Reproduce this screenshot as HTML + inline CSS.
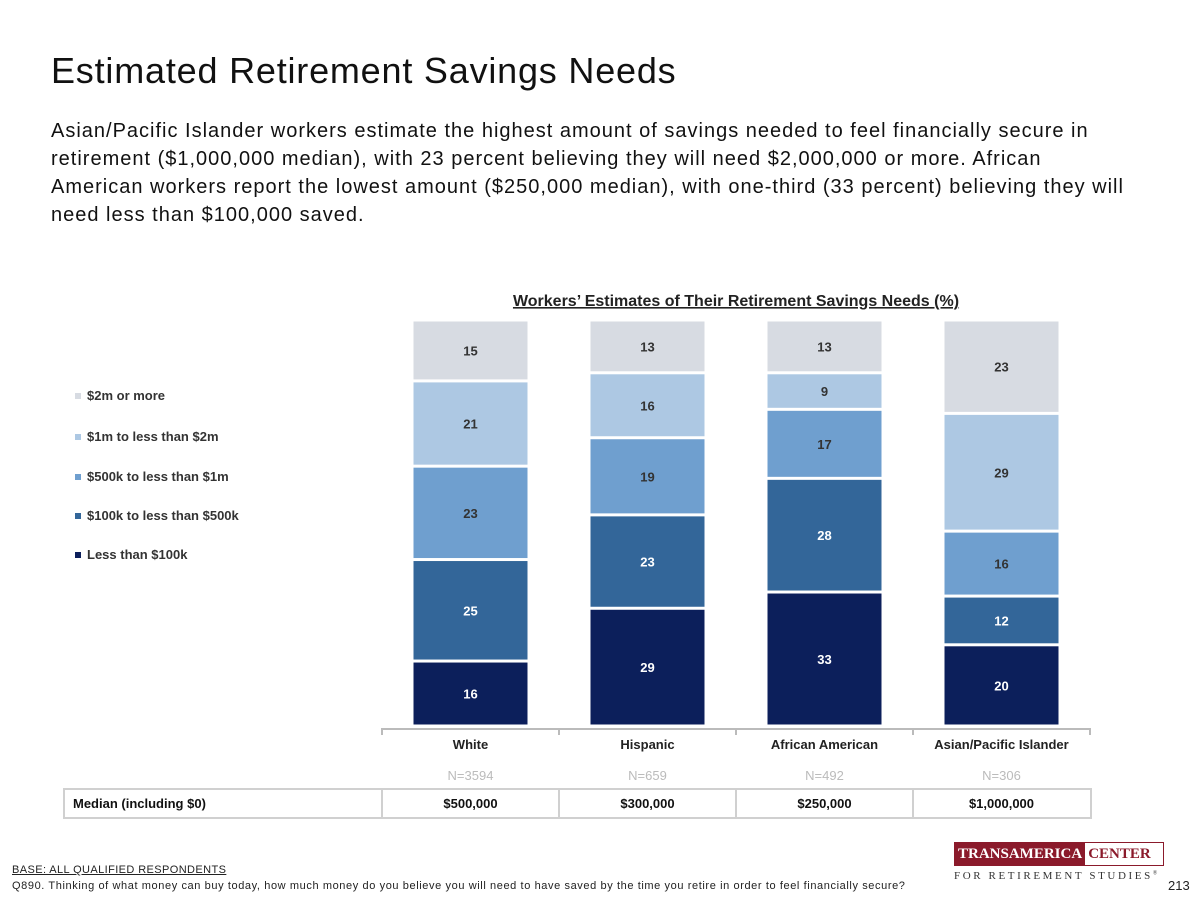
<!DOCTYPE html>
<html><head><meta charset="utf-8">
<style>
body{margin:0;width:1200px;height:900px;background:#fff;overflow:hidden;font-family:"Liberation Sans",sans-serif;position:relative}
.abs{position:absolute}
</style></head><body>
<div class="abs" style="left:51px;top:50px;font-size:36px;letter-spacing:0.8px;color:#111;white-space:nowrap">Estimated Retirement Savings Needs</div>
<div class="abs" style="left:51px;top:117px;font-size:20px;letter-spacing:1.0px;line-height:28px;color:#111;white-space:nowrap">Asian/Pacific Islander workers estimate the highest amount of savings needed to feel financially secure in<br>retirement ($1,000,000 median), with 23 percent believing they will need $2,000,000 or more. African<br>American workers report the lowest amount ($250,000 median), with one-third (33 percent) believing they will<br>need less than $100,000 saved.</div>
<svg class="abs" style="left:0;top:0" width="1200" height="900" id="chart">
<text x="736" y="306" text-anchor="middle" font-size="16" font-weight="bold" fill="#222" text-decoration="underline">Workers’ Estimates of Their Retirement Savings Needs (%)</text>
</svg>
<div class="abs" style="left:12px;top:864px;font-size:11px;letter-spacing:0.4px;color:#222;text-decoration:underline">BASE: ALL QUALIFIED RESPONDENTS</div>
<div class="abs" style="left:12px;top:880px;font-size:11px;letter-spacing:0.6px;color:#222;white-space:nowrap">Q890. Thinking of what money can buy today, how much money do you believe you will need to have saved by the time you retire in order to feel financially secure?</div>
<div class="abs" style="left:954px;top:842px;width:212px">
<div style="display:flex;border:1px solid #8b1a2b;height:22px;width:208px"><div style="background:#8b1a2b;color:#fff;font-family:'Liberation Serif',serif;font-weight:bold;font-size:15px;line-height:22px;padding:0 3px">TRANSAMERICA</div><div style="color:#8b1a2b;font-family:'Liberation Serif',serif;font-weight:bold;font-size:15px;line-height:22px;padding:0 3px">CENTER</div></div>
<div style="font-family:'Liberation Serif',serif;font-size:11px;letter-spacing:2.6px;color:#333;margin-top:4px;white-space:nowrap">FOR RETIREMENT STUDIES<sup style="font-size:6px">®</sup></div>
</div>
<div class="abs" style="left:1168px;top:878px;font-size:13px;color:#222">213</div>
<script>
const categories=["White","Hispanic","African American","Asian/Pacific Islander"];
const sampleSizes=["N=3594","N=659","N=492","N=306"];
const medians=["$500,000","$300,000","$250,000","$1,000,000"];
const seriesNames=["Less than $100k","$100k to less than $500k","$500k to less than $1m","$1m to less than $2m","$2m or more"];
const lessThan100k=[16,29,33,20];
const from100kTo500k=[25,23,28,12];
const from500kTo1m=[23,19,17,16];
const from1mTo2m=[21,16,9,29];
const over2m=[15,13,13,23];
const series=[lessThan100k,from100kTo500k,from500kTo1m,from1mTo2m,over2m];
const colors=["#0c1f5b","#336699","#6f9fcf","#adc8e3","#d7dbe2"];
const textColors=["#fff","#fff","#333","#333","#333"];
const svg=document.getElementById('chart');const NS="http://www.w3.org/2000/svg";
const x0=382,x1=1090,yB=726,yT=320;
const colW=(x1-x0)/categories.length;
const xC=i=>x0+colW*(i+0.5);
const yS=v=>yB-(v/100)*(yB-yT);
function el(t,a){const e=document.createElementNS(NS,t);for(const k in a)e.setAttribute(k,a[k]);svg.appendChild(e);return e;}
categories.forEach((c,i)=>{
 let cum=0;
 series.forEach((s,k)=>{
  const v=s[i];const yTop=yS(cum+v),yBot=yS(cum);
  const r=el('rect',{x:xC(i)-57,y:yTop+1.5,width:114,height:yBot-yTop-3,fill:colors[k]});
  
  
  const t=el('text',{x:xC(i),y:(yTop+yBot)/2+5,'text-anchor':'middle','font-size':13,'font-weight':'bold',fill:textColors[k]});
  t.textContent=v;
  
  
  cum+=v;
 });
 const l=el('text',{x:xC(i),y:749,'text-anchor':'middle','font-size':13,'font-weight':'bold',fill:'#222'});l.textContent=c;
 
 
 const n=el('text',{x:xC(i),y:780,'text-anchor':'middle','font-size':13,fill:'#bbb'});n.textContent=sampleSizes[i];
 
 
 const m=el('text',{x:xC(i),y:808,'text-anchor':'middle','font-size':13,'font-weight':'bold',fill:'#111'});m.textContent=medians[i];
 
 
});
const ax=el('line',{x1:x0,x2:x1,y1:729,y2:729,stroke:'#bbb','stroke-width':2});


for(let i=0;i<=categories.length;i++){const tk=el('line',{x1:x0+colW*i,x2:x0+colW*i,y1:728,y2:735,stroke:'#bbb','stroke-width':2});
 
 }
const tb=el('rect',{x:64,y:789,width:1027,height:29,fill:'none',stroke:'#d0d0d0','stroke-width':2});


for(let i=0;i<categories.length;i++){const d=el('line',{x1:x0+colW*i,x2:x0+colW*i,y1:789,y2:818,stroke:'#d0d0d0','stroke-width':2});
 
 }
const ml=el('text',{x:73,y:808,'font-size':13,'font-weight':'bold',fill:'#111'});ml.textContent="Median (including $0)";


const legY=[557,518,479,439,398];
seriesNames.forEach((s,k)=>{
 const r=el('rect',{x:75,y:legY[k]-5,width:6,height:6,fill:colors[k]});
 
 
 const t=el('text',{x:87,y:legY[k]+2,'font-size':13,'font-weight':'bold',fill:'#333'});t.textContent=s;
 
 
});
</script>
</body></html>
